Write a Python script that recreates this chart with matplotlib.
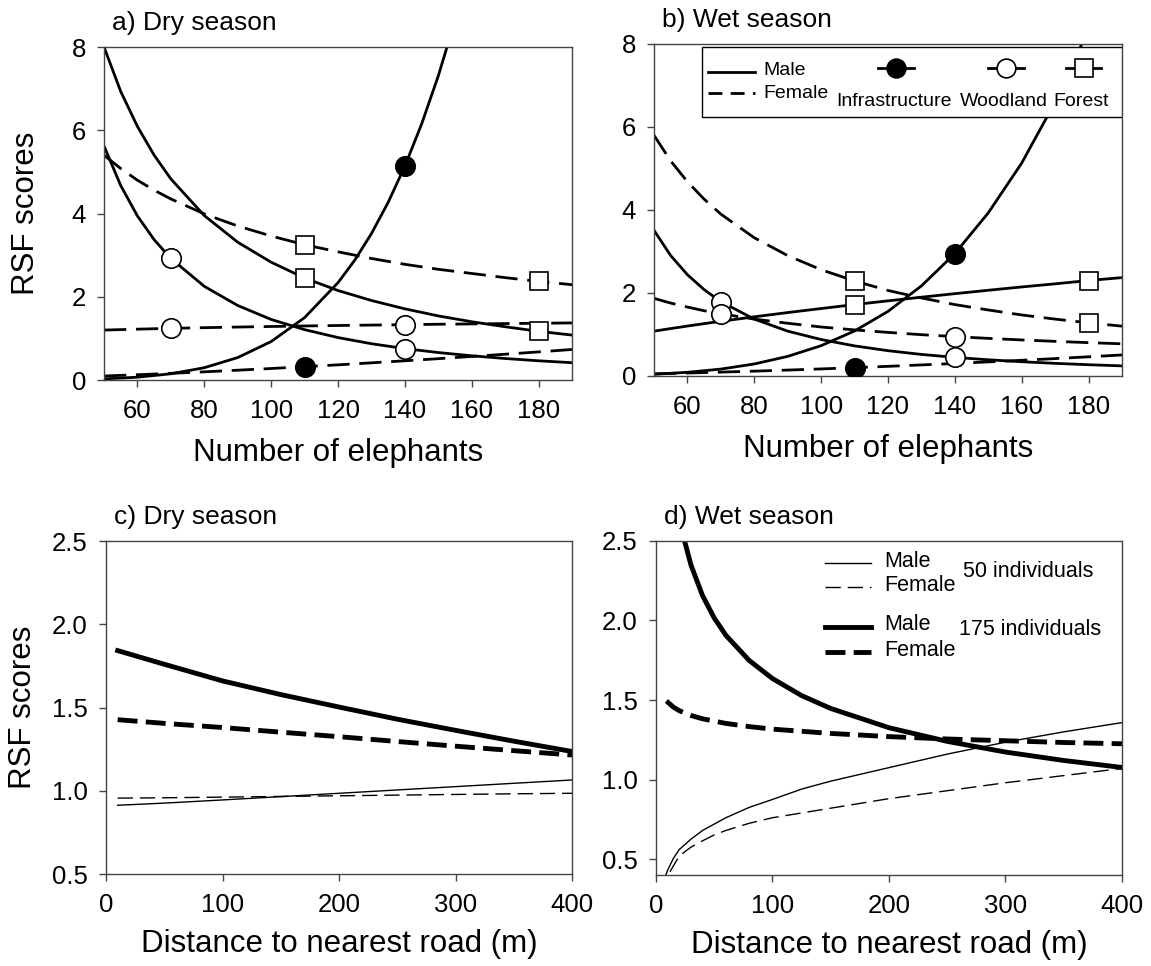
import numpy as np
import matplotlib
matplotlib.use('Agg')
import matplotlib.pyplot as plt
from matplotlib.patches import Rectangle

plt.rcParams['font.family'] = ['Liberation Sans', 'DejaVu Sans']

# Numero de elefantes (paneles a y b)
n_elef = [50, 55, 60, 65, 70, 80, 90, 100, 110, 120, 130, 140, 150, 160, 170, 180, 190]

# a) Dry season
dry_forest_m = [8.0, 6.93, 6.09, 5.40, 4.83, 3.95, 3.31, 2.83, 2.45, 2.15, 1.91, 1.71, 1.54, 1.40, 1.28, 1.17, 1.08]
dry_forest_f = [5.4, 5.08, 4.80, 4.56, 4.35, 3.99, 3.70, 3.46, 3.25, 3.08, 2.92, 2.78, 2.66, 2.56, 2.46, 2.37, 2.29]
dry_wood_m = [5.62, 4.67, 3.94, 3.37, 2.92, 2.25, 1.79, 1.455, 1.21, 1.02, 0.872, 0.755, 0.66, 0.582, 0.517, 0.462, 0.416]
dry_wood_f = [1.2, 1.211, 1.222, 1.232, 1.241, 1.258, 1.273, 1.286, 1.299, 1.31, 1.32, 1.33, 1.34, 1.348, 1.356, 1.364, 1.372]
dry_infra_f = [0.097, 0.112, 0.127, 0.144, 0.161, 0.197, 0.236, 0.277, 0.32, 0.365, 0.413, 0.462, 0.513, 0.566, 0.62, 0.676, 0.734]
dry_infra_m_x = [50, 60, 70, 80, 90, 100, 110, 120, 125, 130, 135, 140, 145, 150, 155]
dry_infra_m = [0.027, 0.068, 0.15, 0.296, 0.54, 0.925, 1.50, 2.34, 2.88, 3.52, 4.27, 5.14, 6.15, 7.31, 8.64]

# b) Wet season
wet_forest_m = [1.08, 1.142, 1.203, 1.261, 1.317, 1.425, 1.528, 1.625, 1.72, 1.81, 1.898, 1.983, 2.065, 2.145, 2.22, 2.30, 2.37]
wet_forest_f = [5.8, 5.18, 4.68, 4.26, 3.90, 3.33, 2.90, 2.56, 2.29, 2.06, 1.88, 1.72, 1.59, 1.47, 1.37, 1.28, 1.20]
wet_wood_m = [3.51, 2.90, 2.44, 2.08, 1.79, 1.37, 1.08, 0.878, 0.725, 0.609, 0.519, 0.448, 0.39, 0.343, 0.304, 0.271, 0.243]
wet_wood_f = [1.87, 1.756, 1.66, 1.572, 1.50, 1.37, 1.27, 1.18, 1.11, 1.05, 0.995, 0.948, 0.906, 0.868, 0.834, 0.803, 0.775]
wet_infra_f = [0.052, 0.062, 0.071, 0.082, 0.093, 0.116, 0.142, 0.170, 0.2, 0.232, 0.266, 0.301, 0.339, 0.378, 0.419, 0.462, 0.506]
wet_infra_m_x = [50, 60, 70, 80, 90, 100, 110, 120, 130, 140, 150, 160, 170, 175, 180]
wet_infra_m = [0.041, 0.088, 0.166, 0.289, 0.472, 0.730, 1.084, 1.556, 2.17, 2.95, 3.93, 5.13, 6.60, 7.45, 8.37]

# Puntos (marcadores)
pts_infra_x = [110, 140]
pts_wood_x = [70, 70, 140, 140]
pts_forest_x = [110, 110, 180, 180]
dry_infra_pts = [0.32, 5.14]
dry_wood_pts = [2.92, 1.24, 0.755, 1.33]
dry_forest_pts = [2.45, 3.25, 1.17, 2.37]
wet_infra_pts = [0.2, 2.95]
wet_wood_pts = [1.79, 1.50, 0.448, 0.948]
wet_forest_pts = [1.72, 2.29, 2.30, 1.28]

# c) Dry season - distancia a carretera
dist_c = [10, 50, 100, 150, 200, 250, 300, 350, 400]
dry_m175 = [1.842, 1.76, 1.66, 1.578, 1.503, 1.43, 1.363, 1.298, 1.236]
dry_f175 = [1.427, 1.405, 1.38, 1.352, 1.325, 1.296, 1.268, 1.241, 1.215]
dry_m50 = [0.913, 0.926, 0.945, 0.965, 0.985, 1.005, 1.025, 1.045, 1.065]
dry_f50 = [0.956, 0.958, 0.962, 0.966, 0.970, 0.974, 0.978, 0.982, 0.985]

# d) Wet season - distancia a carretera
wet_m175_x = [24, 30, 40, 50, 60, 80, 100, 125, 150, 200, 250, 300, 350, 400]
wet_m175 = [2.516, 2.35, 2.156, 2.016, 1.907, 1.749, 1.635, 1.528, 1.447, 1.326, 1.240, 1.173, 1.120, 1.076]
wet_f175_x = [9, 15, 20, 30, 40, 60, 80, 100, 150, 200, 250, 300, 350, 400]
wet_f175 = [1.494, 1.455, 1.433, 1.403, 1.382, 1.353, 1.333, 1.317, 1.290, 1.270, 1.255, 1.244, 1.233, 1.225]
wet_m50_x = [8, 10, 15, 20, 30, 40, 60, 80, 100, 125, 150, 200, 250, 300, 350, 400]
wet_m50 = [0.39, 0.43, 0.505, 0.56, 0.625, 0.68, 0.76, 0.825, 0.875, 0.94, 0.99, 1.075, 1.16, 1.235, 1.30, 1.358]
wet_f50_x = [12, 20, 30, 40, 50, 60, 80, 100, 125, 150, 200, 250, 300, 350, 400]
wet_f50 = [0.42, 0.52, 0.575, 0.615, 0.652, 0.68, 0.725, 0.76, 0.79, 0.82, 0.88, 0.93, 0.98, 1.025, 1.07]

SPINE = '#444444'
DASH = (8, 3.5)


def style_axis(ax):
    for s in ax.spines.values():
        s.set_color(SPINE)
        s.set_linewidth(1.0)
    ax.tick_params(direction='out', length=5, width=1, color=SPINE, labelsize=18.5)
    ax.tick_params(axis='x', pad=9)
    ax.tick_params(axis='y', pad=8)


def panel_title(ax, text):
    ax.text(0.018, 1.072, text, transform=ax.transAxes, fontsize=19, va='center', ha='left')


def plot_elephants(ax, forest_m, forest_f, wood_m, wood_f, infra_f, infra_m_x, infra_m,
                   infra_pts, wood_pts, forest_pts):
    lw = 2.0
    ax.plot(n_elef, forest_m, color='k', lw=lw)
    ax.plot(n_elef, forest_f, color='k', lw=lw, dashes=DASH)
    ax.plot(n_elef, wood_m, color='k', lw=lw)
    ax.plot(n_elef, wood_f, color='k', lw=lw, dashes=DASH)
    ax.plot(n_elef, infra_f, color='k', lw=lw, dashes=DASH)
    ax.plot(infra_m_x, infra_m, color='k', lw=lw)
    ax.plot(pts_infra_x, infra_pts, 'o', ms=14, mfc='k', mec='k', mew=1.2, zorder=4)
    ax.plot(pts_wood_x, wood_pts, 'o', ms=14, mfc='white', mec='k', mew=1.2, zorder=4)
    ax.plot(pts_forest_x, forest_pts, 's', ms=13.5, mfc='white', mec='k', mew=1.2, zorder=4)
    ax.set_xlim(50, 190)
    ax.set_ylim(0, 8)
    ax.set_xticks([60, 80, 100, 120, 140, 160, 180])
    ax.set_yticks([0, 2, 4, 6, 8])
    ax.set_xlabel('Number of elephants', fontsize=22.5)
    ax.xaxis.set_label_coords(0.5, -0.175)
    style_axis(ax)


def legend_elephants(ax):
    tr = ax.transAxes
    ax.add_patch(Rectangle((0.103, 0.781), 0.897, 0.209, transform=tr, facecolor='white',
                           edgecolor='k', lw=1.0, zorder=5))
    ax.plot([0.116, 0.216], [0.917, 0.917], color='k', lw=2.0, transform=tr, zorder=6)
    ax.plot([0.116, 0.216], [0.852, 0.852], color='k', lw=2.0, dashes=(5, 3), transform=tr, zorder=6)
    ax.text(0.233, 0.92, 'Male', transform=tr, fontsize=14, va='center', zorder=6)
    ax.text(0.233, 0.852, 'Female', transform=tr, fontsize=14, va='center', zorder=6)
    items = [(0.517, 'o', 'k', 'Infrastructure'), (0.752, 'o', 'white', 'Woodland'),
             (0.918, 's', 'white', 'Forest')]
    for xm, mk, fc, lab in items:
        ax.plot([xm - 0.038, xm, xm + 0.038], [0.927, 0.927, 0.927], color='k', lw=2.0,
                marker=mk, markevery=[1], ms=13.5, mfc=fc, mec='k', mew=1.2, transform=tr, zorder=6)
        ax.text(xm - 0.005, 0.828, lab, transform=tr, fontsize=14, ha='center', va='center', zorder=6)


def plot_roads(ax, series):
    for xs, ys, lw, dashes in series:
        if dashes is None:
            ax.plot(xs, ys, color='k', lw=lw)
        else:
            ax.plot(xs, ys, color='k', lw=lw, dashes=dashes)
    ax.set_xlim(0, 400)
    ax.set_xticks([0, 100, 200, 300, 400])
    ax.set_yticks([0.5, 1.0, 1.5, 2.0, 2.5])
    ax.set_yticklabels(['0.5', '1.0', '1.5', '2.0', '2.5'])
    ax.set_xlabel('Distance to nearest road (m)', fontsize=22.5)
    ax.xaxis.set_label_coords(0.5, -0.165)
    style_axis(ax)


fig = plt.figure(figsize=(11.51, 9.66), dpi=100)
ax_a = fig.add_axes([0.0904, 0.6066, 0.4066, 0.3447])
ax_b = fig.add_axes([0.5682, 0.6108, 0.4066, 0.3437])
ax_c = fig.add_axes([0.0921, 0.0952, 0.4049, 0.3447])
ax_d = fig.add_axes([0.5699, 0.0942, 0.4049, 0.3458])

plot_elephants(ax_a, dry_forest_m, dry_forest_f, dry_wood_m, dry_wood_f, dry_infra_f,
               dry_infra_m_x, dry_infra_m, dry_infra_pts, dry_wood_pts, dry_forest_pts)
plot_elephants(ax_b, wet_forest_m, wet_forest_f, wet_wood_m, wet_wood_f, wet_infra_f,
               wet_infra_m_x, wet_infra_m, wet_infra_pts, wet_wood_pts, wet_forest_pts)
legend_elephants(ax_b)
ax_a.set_ylabel('RSF scores', fontsize=22.5)
ax_a.yaxis.set_label_coords(-0.135, 0.5)
panel_title(ax_a, 'a) Dry season')
panel_title(ax_b, 'b) Wet season')

thin, thick = 1.0, 3.5
plot_roads(ax_c, [(dist_c, dry_m50, thin, None), (dist_c, dry_f50, thin, (11, 5)),
                  (dist_c, dry_m175, thick, None), (dist_c, dry_f175, thick, (4.1, 1.7))])
ax_c.set_ylim(0.5, 2.5)
ax_c.set_ylabel('RSF scores', fontsize=22.5)
ax_c.yaxis.set_label_coords(-0.145, 0.5)
panel_title(ax_c, 'c) Dry season')

plot_roads(ax_d, [(wet_m50_x, wet_m50, thin, None), (wet_f50_x, wet_f50, thin, (11, 5)),
                  (wet_m175_x, wet_m175, thick, None), (wet_f175_x, wet_f175, thick, (4.1, 1.7))])
ax_d.set_ylim(0.4, 2.5)
panel_title(ax_d, 'd) Wet season')

# leyenda panel d
tr = ax_d.transAxes
ax_d.plot([0.363, 0.461], [0.935, 0.935], color='k', lw=thin, transform=tr)
ax_d.plot([0.363, 0.461], [0.862, 0.862], color='k', lw=thin, dashes=(11, 5), transform=tr)
ax_d.plot([0.363, 0.461], [0.741, 0.741], color='k', lw=thick, transform=tr)
ax_d.plot([0.363, 0.461], [0.669, 0.669], color='k', lw=thick, dashes=(4.1, 1.7), transform=tr)
ax_d.text(0.489, 0.94, 'Male', transform=tr, fontsize=15.5, va='center')
ax_d.text(0.489, 0.867, 'Female', transform=tr, fontsize=15.5, va='center')
ax_d.text(0.659, 0.91, '50 individuals', transform=tr, fontsize=15.5, va='center')
ax_d.text(0.489, 0.749, 'Male', transform=tr, fontsize=15.5, va='center')
ax_d.text(0.489, 0.673, 'Female', transform=tr, fontsize=15.5, va='center')
ax_d.text(0.651, 0.734, '175 individuals', transform=tr, fontsize=15.5, va='center')

fig.savefig('out.png', dpi=100)
